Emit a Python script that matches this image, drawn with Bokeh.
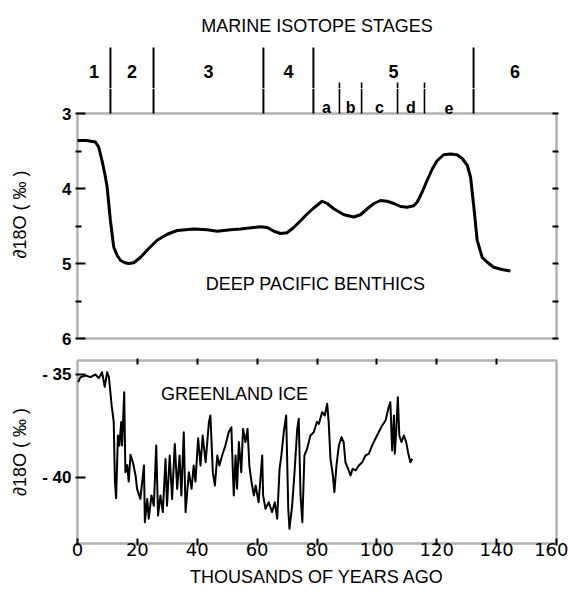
from bokeh.plotting import figure
from bokeh.models import Range1d, FixedTicker, LinearAxis, BoxAnnotation
from bokeh.layouts import column
from bokeh.core.properties import value
from bokeh.embed import file_html
from bokeh.resources import INLINE

# ---------------- data ----------------
benthic_age = [0, 3, 6, 7.1, 8.2, 9.1, 9.9, 11.0, 12.1, 13.2, 14.4, 15.8, 17.1, 18.8, 21.0,
               23.8, 26.6, 30.0, 33.3, 38.9, 43.3, 46.7, 51.1, 54.4, 58.9, 61.1, 63.4, 65.6,
               67.8, 70.0, 72.2, 74.5, 76.7, 78.9, 81.7, 83.4, 85.6, 89.0, 92.3, 94.5, 96.8,
               99.0, 101.2, 103.4, 105.7, 107.9, 110.1, 112.3, 113.5, 115.1, 116.8, 118.5,
               120.1, 122.3, 124.6, 126.8, 128.5, 130.2, 131.3, 132.4, 133.5, 135.2, 136.8,
               139.0, 141.8, 144.6]
benthic_d18o = [3.36, 3.36, 3.38, 3.45, 3.63, 3.80, 3.98, 4.43, 4.78, 4.89, 4.96, 4.99, 5.00,
                4.99, 4.92, 4.80, 4.69, 4.61, 4.56, 4.54, 4.55, 4.57, 4.55, 4.54, 4.52, 4.51,
                4.52, 4.57, 4.60, 4.59, 4.52, 4.43, 4.34, 4.26, 4.17, 4.20, 4.27, 4.35, 4.38,
                4.35, 4.27, 4.20, 4.16, 4.17, 4.20, 4.24, 4.25, 4.23, 4.18, 4.05, 3.89, 3.74,
                3.63, 3.55, 3.54, 3.55, 3.60, 3.69, 3.85, 4.25, 4.69, 4.92, 4.98, 5.05, 5.08,
                5.10]

ice_age = [0.2, 1.0, 2.7, 4.3, 6.0, 7.1, 8.2, 9.1, 9.9, 10.5, 11.4, 12.1, 12.5, 12.9, 13.5,
           14.0, 14.6, 14.9, 15.6, 16.0, 16.6, 17.1, 17.7, 18.5, 19.4, 19.9, 21.0, 22.2, 22.5,
           23.3, 23.8, 24.7, 25.5, 26.3, 26.9, 27.7, 28.5, 29.4, 29.9, 30.8, 31.6, 32.5, 33.3,
           34.1, 34.7, 35.5, 36.1, 37.2, 38.1, 38.8, 39.4, 40.3, 41.1, 41.8, 42.8, 43.9, 44.4,
           45.2, 45.9, 46.7, 47.4, 48.3, 49.4, 50.5, 51.4, 51.9, 52.2, 52.8, 53.3, 53.9, 54.7,
           55.3, 56.1, 56.8, 57.4, 58.1, 58.9, 59.5, 60.5, 61.7, 62.0, 62.8, 63.9, 65.0, 65.9,
           66.7, 67.5, 68.1, 68.9, 69.7, 70.4, 70.8, 71.7, 72.5, 73.4, 73.9, 74.5, 75.1, 75.8,
           76.7, 77.8, 78.9, 80.0, 80.6, 81.7, 82.6, 83.4, 83.9, 84.5, 85.3, 85.8, 86.5, 87.3,
           88.2, 88.9, 89.5, 90.4, 91.2, 91.9, 92.9, 94.0, 95.1, 96.2, 97.3, 98.4, 99.5, 100.6,
           101.8, 102.9, 103.8, 104.5, 105.1, 105.7, 106.0, 106.5, 107.0, 107.5, 108.2, 109.0,
           109.8, 110.4, 111.2, 111.8]
ice_d18o = [-35.37, -35.13, -35.05, -35.13, -35.00, -35.18, -34.89, -35.60, -34.89, -35.13,
            -36.50, -37.30, -40.20, -41.00, -37.96, -38.45, -37.30, -38.45, -35.86, -39.74,
            -39.40, -40.20, -38.90, -39.26, -39.90, -40.55, -41.04, -39.42, -42.17, -41.04,
            -42.00, -40.87, -41.37, -38.45, -41.85, -40.87, -41.68, -39.10, -41.37, -38.93,
            -41.04, -38.37, -40.55, -38.93, -40.87, -37.80, -41.68, -39.74, -40.55, -39.42,
            -40.20, -38.10, -39.42, -37.96, -39.26, -37.30, -36.99, -39.74, -40.39, -38.93,
            -39.42, -38.93, -38.45, -37.80, -37.56, -39.74, -40.87, -38.93, -40.55, -38.28,
            -39.74, -37.64, -38.28, -37.64, -39.42, -40.20, -40.87, -40.39, -41.20, -38.93,
            -40.87, -41.52, -41.20, -41.68, -41.20, -42.00, -39.58, -38.93, -37.80, -36.99,
            -41.52, -42.49, -41.37, -39.74, -37.64, -37.15, -40.87, -42.17, -38.93, -38.60,
            -37.96, -37.80, -37.30, -37.40, -36.83, -36.99, -36.42, -37.30, -39.09, -39.90,
            -40.71, -39.42, -38.45, -38.04, -38.28, -39.26, -39.58, -39.90, -39.58, -39.66,
            -39.42, -39.26, -38.93, -38.85, -38.45, -38.12, -37.80, -37.47, -37.23, -36.67,
            -36.34, -38.69, -36.99, -38.85, -37.64, -36.10, -37.96, -38.28, -37.96, -38.28,
            -38.77, -39.26, -39.09]

stage_names = ["1", "2", "3", "4", "5", "6"]
stage_bounds = [0, 11.0, 25.4, 62.1, 78.8, 132.3, 160]
substage_names = ["a", "b", "c", "d", "e"]
substage_bounds = [78.8, 87.5, 94.9, 106.9, 115.9, 132.3]

x_ticks = [0, 20, 40, 60, 80, 100, 120, 140, 160]
benthic_ticks = [3, 4, 5, 6]
benthic_minor_ticks = [3.5, 4.5, 5.5]
ice_ticks = [-35, -40]
ice_tick_labels = {-35: "- 35", -40: "- 40"}
y_label = "∂18O ( ‰ )"

# ---------------- layout helpers (pixel geometry of the page) ----------------
PX_PER_KYR = (556 - 77) / 160.0
HEADER_BOTTOM = 88


def kyr_at(px):
    return (px - 77) / PX_PER_KYR


def top_val(py):
    return 3 + (py - 113) / 75.0


def ice_val(py):
    return -35 - (py - 374) / 20.6


FONT = value("Liberation Sans")
x_range = Range1d(kyr_at(75), kyr_at(558))


def style_frame(p):
    p.outline_line_color = None
    p.grid.visible = False
    p.background_fill_color = "white"
    p.border_fill_color = "white"


stage_lines = stage_bounds[1:-1]
sub_lines = substage_bounds[1:-1]
stage_mid = [(a + b) / 2 for a, b in zip(stage_bounds[:-1], stage_bounds[1:])]
sub_mid = [(a + b) / 2 for a, b in zip(substage_bounds[:-1], substage_bounds[1:])]

# ---------------- isotope stage header ----------------
ph = figure(width=568, height=HEADER_BOTTOM, x_range=x_range,
            y_range=Range1d(top_val(HEADER_BOTTOM), top_val(0)),
            x_axis_type=None, y_axis_type=None,
            output_backend="svg", toolbar_location=None,
            min_border_left=75, min_border_right=10, min_border_top=0, min_border_bottom=0)
style_frame(ph)

ph.segment(x0=stage_lines, y0=[top_val(47)] * len(stage_lines),
           x1=stage_lines, y1=[top_val(HEADER_BOTTOM)] * len(stage_lines),
           line_color="black", line_width=2)
ph.segment(x0=sub_lines, y0=[top_val(82)] * len(sub_lines),
           x1=sub_lines, y1=[top_val(HEADER_BOTTOM)] * len(sub_lines),
           line_color="black", line_width=1.6)
ph.text(x=stage_mid, y=[top_val(71)] * len(stage_mid), text=stage_names,
        text_font=FONT, text_font_style="bold", text_font_size="18px",
        text_align="center", text_baseline="middle", text_color="black")
ph.text(x=[(x_ticks[0] + x_ticks[-1]) / 2], y=[top_val(25)], text=["MARINE ISOTOPE STAGES"],
        text_font=FONT, text_font_size="18px", text_align="center",
        text_baseline="middle", text_color="black")

# ---------------- deep Pacific benthics panel ----------------
p1 = figure(width=568, height=350 - HEADER_BOTTOM, x_range=x_range,
            y_range=Range1d(top_val(340), top_val(HEADER_BOTTOM)),
            output_backend="svg", toolbar_location=None,
            min_border_left=75, min_border_right=10, min_border_top=0, min_border_bottom=10)
style_frame(p1)
p1.xaxis.visible = False

ya = p1.yaxis[0]
ya.ticker = FixedTicker(ticks=benthic_ticks, minor_ticks=benthic_minor_ticks)
ya.axis_line_color = None
ya.major_tick_in = 10
ya.major_tick_out = 0
ya.minor_tick_in = 6
ya.minor_tick_out = 0
ya.major_tick_line_width = 2
ya.minor_tick_line_width = 2
ya.major_label_standoff = 4
ya.major_label_text_font = "Liberation Sans"
ya.major_label_text_font_style = "bold"
ya.major_label_text_font_size = "17px"
ya.major_label_text_color = "black"
ya.axis_label = y_label
ya.axis_label_standoff = 29
ya.axis_label_text_font = "Liberation Sans"
ya.axis_label_text_font_style = "normal"
ya.axis_label_text_font_size = "18px"
ya.axis_label_text_color = "black"

ra = LinearAxis(ticker=FixedTicker(ticks=benthic_ticks, minor_ticks=benthic_minor_ticks),
                major_label_overrides={t: "" for t in benthic_ticks})
ra.axis_line_color = None
ra.major_tick_in = 6
ra.major_tick_out = 0
ra.minor_tick_in = 6
ra.minor_tick_out = 0
ra.major_tick_line_width = 2
ra.minor_tick_line_width = 2
p1.add_layout(ra, "right")

# lower part of the stage header (continues into this panel's space)
p1.segment(x0=stage_lines, y0=[top_val(HEADER_BOTTOM)] * len(stage_lines),
           x1=stage_lines, y1=[benthic_ticks[0]] * len(stage_lines),
           line_color="black", line_width=2)
p1.segment(x0=sub_lines, y0=[top_val(HEADER_BOTTOM)] * len(sub_lines),
           x1=sub_lines, y1=[benthic_ticks[0]] * len(sub_lines),
           line_color="black", line_width=1.6)
p1.text(x=sub_mid, y=[top_val(107)] * len(sub_mid), text=substage_names,
        text_font=FONT, text_font_style="bold", text_font_size="16px",
        text_align="center", text_baseline="alphabetic", text_color="black")

p1.add_layout(BoxAnnotation(left=x_ticks[0], right=x_ticks[-1], top=benthic_ticks[0],
                            bottom=benthic_ticks[-1], fill_color=None,
                            line_color="black", line_width=2.5))

p1.line(benthic_age, benthic_d18o, line_color="black", line_width=3, line_join="round")
p1.text(x=[kyr_at(315)], y=[top_val(283)], text=["DEEP PACIFIC BENTHICS"],
        text_font=FONT, text_font_size="18px", text_align="center",
        text_baseline="middle", text_color="black")

# ---------------- Greenland ice panel ----------------
p2 = figure(width=568, height=245, x_range=x_range,
            y_range=Range1d(ice_val(545), ice_val(358)),
            output_backend="svg", toolbar_location=None,
            min_border_left=75, min_border_right=10, min_border_top=8, min_border_bottom=50)
style_frame(p2)

p2.add_layout(BoxAnnotation(left=x_ticks[0], right=x_ticks[-1], top=ice_val(360),
                            bottom=ice_val(543), fill_color=None,
                            line_color="black", line_width=2.5))

p2.line(ice_age, ice_d18o, line_color="black", line_width=2, line_join="round")

la = p2.yaxis[0]
la.ticker = FixedTicker(ticks=ice_ticks)
la.major_label_overrides = ice_tick_labels
la.axis_line_color = None
la.major_tick_in = 10
la.major_tick_out = 0
la.major_tick_line_width = 2
la.minor_tick_line_color = None
la.major_label_standoff = 4
la.major_label_text_font = "Liberation Sans"
la.major_label_text_font_style = "bold"
la.major_label_text_font_size = "17px"
la.major_label_text_color = "black"
la.axis_label = y_label
la.axis_label_standoff = 9
la.axis_label_text_font = "Liberation Sans"
la.axis_label_text_font_style = "normal"
la.axis_label_text_font_size = "18px"
la.axis_label_text_color = "black"

xa = p2.xaxis[0]
xa.ticker = FixedTicker(ticks=x_ticks)
xa.axis_line_color = None
xa.major_tick_in = 7
xa.major_tick_out = 0
xa.major_tick_line_width = 2
xa.minor_tick_line_color = None
xa.major_label_standoff = -3
xa.major_label_text_font = "DejaVu Sans"
xa.major_label_text_font_size = "18px"
xa.major_label_text_color = "black"
xa.axis_label = "THOUSANDS OF YEARS AGO"
xa.axis_label_standoff = 8
xa.axis_label_text_font = "Liberation Sans"
xa.axis_label_text_font_style = "normal"
xa.axis_label_text_font_size = "18px"
xa.axis_label_text_color = "black"

ta = LinearAxis(ticker=FixedTicker(ticks=x_ticks[1:-1]),
                major_label_overrides={t: "" for t in x_ticks[1:-1]})
ta.axis_line_color = None
ta.major_tick_in = 6
ta.major_tick_out = 0
ta.major_tick_line_width = 2
ta.minor_tick_line_color = None
p2.add_layout(ta, "above")

p2.text(x=[kyr_at(234)], y=[ice_val(393)], text=["GREENLAND ICE"],
        text_font=FONT, text_font_size="18px", text_align="center",
        text_baseline="middle", text_color="black")

layout = column(ph, p1, p2, spacing=0)
open("out.html", "w").write(file_html(layout, INLINE))
